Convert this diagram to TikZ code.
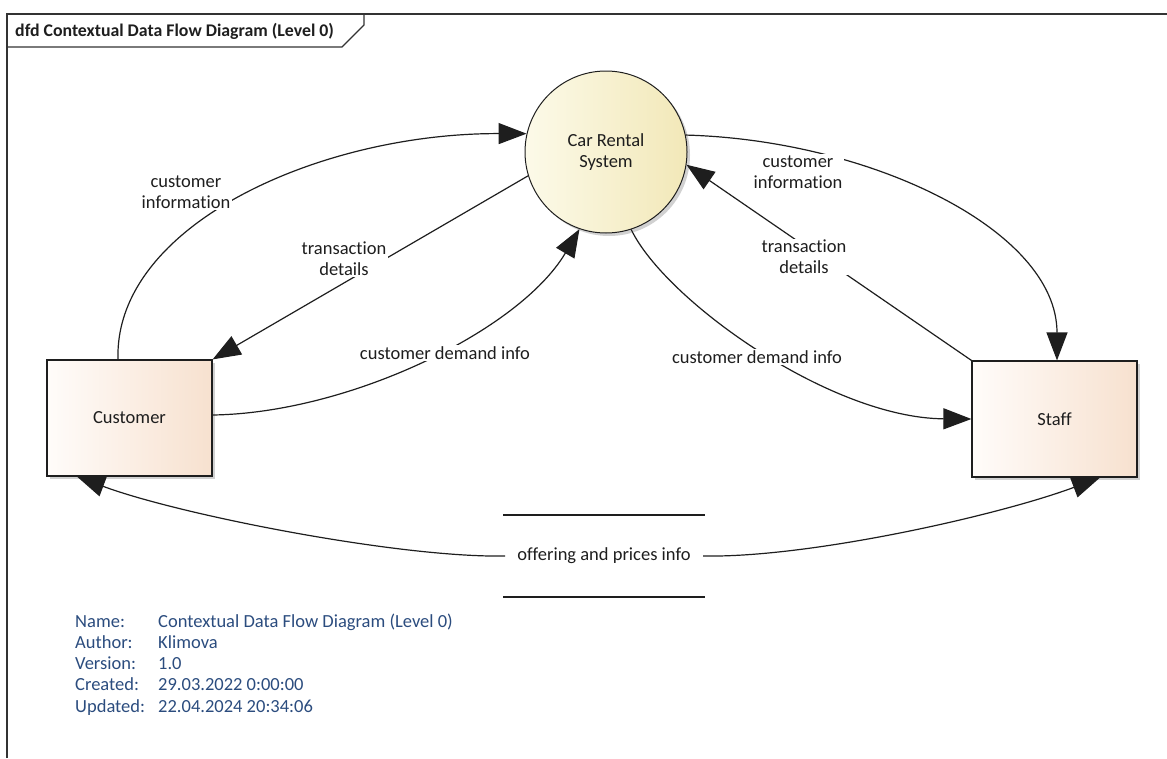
\documentclass[tikz,border=0pt]{standalone}
\usepackage{fontspec}
\setmainfont{Carlito}[Ligatures=NoCommon]
\usetikzlibrary{arrows.meta,shadows}
\definecolor{ink}{HTML}{1E1E1E}
\definecolor{meta}{HTML}{2B4C7E}
\definecolor{boxL}{HTML}{FFFCFA}
\definecolor{boxR}{HTML}{F7E1CF}
\definecolor{procL}{HTML}{FCFAE9}
\definecolor{procR}{HTML}{F2E8B8}
\begin{document}
\begin{tikzpicture}[x=1pt,y=-1pt,
  every node/.style={font=\fontsize{18.5}{21}\selectfont, text=ink},
  softshadow/.style={drop shadow={shadow xshift=3pt, shadow yshift=-3pt, opacity=0.18, fill=black}},
  entity/.style={rectangle, draw=ink, line width=1.2pt, minimum width=165pt,
    minimum height=116pt, left color=boxL, right color=boxR, softshadow},
  process/.style={circle, draw=ink, line width=1pt, minimum size=162pt, inner sep=0pt,
    left color=procL, right color=procR, align=center, softshadow},
  datastore/.style={rectangle, minimum width=202pt, minimum height=82pt, inner sep=0pt, outer sep=0pt},
  storeline/.style={draw=ink, line width=2.5pt},
  flow/.style={draw=ink, line width=1.2pt, -{Triangle[length=28pt,width=21pt]}},
  flowlabel/.style={fill=white, inner sep=1.5pt, align=center},
  frame/.style={draw=black!80, line width=1.2pt},
  metatext/.style={text=meta, anchor=base west, inner sep=0pt}]

\useasboundingbox (0,0) rectangle (1167,758);

% diagram frame with its title tab
\draw[frame] (7,758) -- (7,14) -- (1167,14);
\draw[frame] (7,47) -- (342,47) -- (364,25) -- (364,14);
\node[anchor=west, inner sep=0pt, font=\fontsize{17.8}{21}\selectfont\bfseries] (title) at (15,31) {dfd Contextual Data Flow Diagram (Level 0)};

% process, external entities and data store
\node[process] (sys) at (606,152) {Car Rental\\System};
\node[entity] (cust) at (129.5,418) {Customer};
\node[entity] (staff) at (1054.5,419) {Staff};
\node[datastore] (store) at (604,556) {offering and prices info};
\draw[storeline] (store.north west) -- (store.north east);
\draw[storeline] (store.south west) -- (store.south east);

% data flows
\draw[flow] ([xshift=-11.5pt]cust.north) .. controls (114,225) and (320,133) .. (sys.167);
\draw[flow] (sys.197) -- (cust.north east);
\draw[flow] ([yshift=3pt]cust.east) .. controls (350,413) and (520,330) .. (sys.251);
\draw[flow] (sys.12) .. controls (870,140) and (1057,230) .. ([xshift=2.5pt]staff.north);
\draw[flow] (staff.north west) -- (sys.-9);
\draw[flow] (sys.288) .. controls (665,300) and (830,418) .. (staff.west);
\draw[flow] ([xshift=2pt]store.west) .. controls (400,558) and (180,515) .. ([xshift=-52.5pt]cust.south);
\draw[flow] ([xshift=-2pt]store.east) .. controls (810,558) and (1000,515) .. ([xshift=45.5pt]staff.south);

% flow labels
\node[flowlabel] (l1) at (186,192) {customer\\information};
\node[flowlabel] (l2) at (344,259) {transaction\\details};
\node[flowlabel] (l3) at (445,353) {customer demand info};
\node[flowlabel] (l4) at (798,172) {customer\\information};
\node[flowlabel] (l5) at (804,257) {transaction\\details};
\node[flowlabel] (l6) at (757,357) {customer demand info};

% diagram properties
\foreach \k/\v/\y [count=\i] in {Name:/Contextual Data Flow Diagram (Level 0)/627,
    Author:/Klimova/648.25, Version:/1.0/669.5, Created:/29.03.2022 0:00:00/690.75,
    Updated:/22.04.2024 20:34:06/712} {
  \node[metatext] (key\i) at (75,\y) {\k};
  \node[metatext] (val\i) at (158,\y) {\v};
}
\end{tikzpicture}
\end{document}
